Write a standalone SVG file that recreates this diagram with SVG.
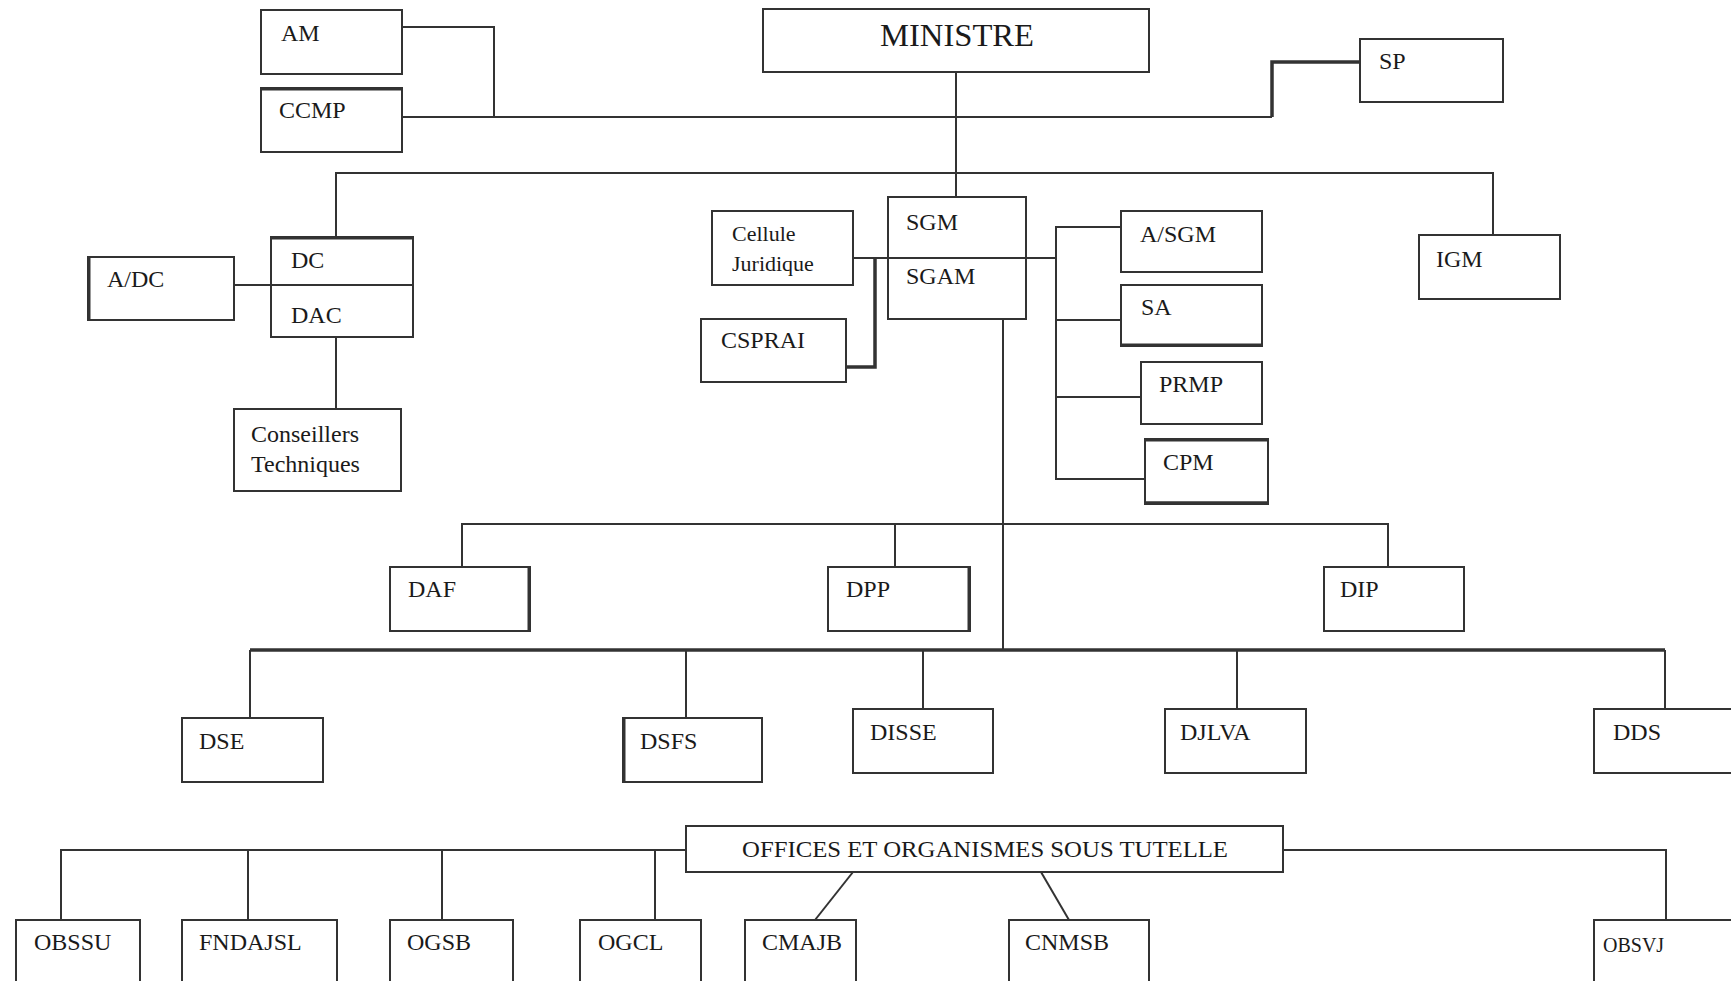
<svg xmlns="http://www.w3.org/2000/svg" width="1731" height="981" viewBox="0 0 1731 981">
<style>
.b{fill:#fff;stroke:#333;stroke-width:2}
.t{font-family:"Liberation Serif","Times New Roman",serif;font-size:24px;fill:#1a1a1a}
.s{font-size:22px}
.c{fill:none;stroke:#333;stroke-width:2}
.k{fill:none;stroke:#333;stroke-width:3.5}
</style>
<rect width="1731" height="981" fill="#fff"/>
<g id="connectors">
<polyline class="c" points="402,27 494,27 494,117"/>
<polyline class="c" points="402,117 1272,117"/>
<polyline class="k" points="1272,117 1272,62 1360,62"/>
<line class="c" x1="956" y1="72" x2="956" y2="197"/>
<polyline class="c" points="336,237 336,173 1493,173 1493,235"/>
<line class="c" x1="234" y1="285" x2="413" y2="285"/>
<line class="c" x1="336" y1="337" x2="336" y2="409"/>
<line class="c" x1="853" y1="258" x2="1056" y2="258"/>
<polyline class="k" points="846,367 875,367 875,258"/>
<polyline class="c" points="1121,227 1056,227 1056,479 1145,479"/>
<line class="c" x1="1056" y1="320" x2="1121" y2="320"/>
<line class="c" x1="1056" y1="397" x2="1141" y2="397"/>
<line class="c" x1="1003" y1="319" x2="1003" y2="650"/>
<polyline class="c" points="462,567 462,524 1388,524 1388,567"/>
<line class="c" x1="895" y1="524" x2="895" y2="567"/>
<line class="k" x1="250" y1="650" x2="1665" y2="650"/>
<line class="c" x1="250" y1="650" x2="250" y2="718"/>
<line class="c" x1="686" y1="650" x2="686" y2="718"/>
<line class="c" x1="923" y1="650" x2="923" y2="709"/>
<line class="c" x1="1237" y1="650" x2="1237" y2="709"/>
<line class="c" x1="1665" y1="650" x2="1665" y2="709"/>
<polyline class="c" points="61,920 61,850 686,850"/>
<line class="c" x1="248" y1="850" x2="248" y2="920"/>
<line class="c" x1="442" y1="850" x2="442" y2="920"/>
<line class="c" x1="655" y1="850" x2="655" y2="920"/>
<polyline class="c" points="1283,850 1666,850 1666,920"/>
<line class="c" x1="853" y1="872" x2="815" y2="920" stroke-width="1.5"/>
<line class="c" x1="1041" y1="872" x2="1069" y2="920" stroke-width="1.5"/>
</g>
<g id="ministre"><rect class="b" x="763" y="9" width="386" height="63"/><text class="t" x="880" y="46" style="font-size:32px" textLength="154" lengthAdjust="spacingAndGlyphs">MINISTRE</text></g>
<g id="am"><rect class="b" x="261" y="10" width="141" height="64"/><text class="t" x="281" y="41">AM</text></g>
<g id="ccmp"><rect class="b" x="261" y="88" width="141" height="64"/><line x1="261" y1="89" x2="402" y2="89" stroke="#333" stroke-width="3"/><text class="t" x="279" y="118">CCMP</text></g>
<g id="sp"><rect class="b" x="1360" y="39" width="143" height="63"/><text class="t" x="1379" y="69">SP</text></g>
<g id="dc"><rect class="b" x="271" y="237" width="142" height="100"/><line x1="271" y1="238" x2="413" y2="238" stroke="#333" stroke-width="3"/><line x1="271" y1="285" x2="413" y2="285" stroke="#333" stroke-width="2"/><text class="t" x="291" y="268">DC</text><text class="t" x="291" y="323">DAC</text></g>
<g id="adc"><rect class="b" x="88" y="257" width="146" height="63"/><line x1="89" y1="257" x2="89" y2="320" stroke="#333" stroke-width="3"/><text class="t" x="107" y="287">A/DC</text></g>
<g id="conseillers"><rect class="b" x="234" y="409" width="167" height="82"/><text class="t" x="251" y="442">Conseillers</text><text class="t" x="251" y="472">Techniques</text></g>
<g id="cellule"><rect class="b" x="712" y="211" width="141" height="74"/><text class="t s" x="732" y="241">Cellule</text><text class="t s" x="732" y="271">Juridique</text></g>
<g id="cspraj"><rect class="b" x="701" y="319" width="145" height="63"/><text class="t" x="721" y="348">CSPRAI</text></g>
<g id="sgm"><rect class="b" x="888" y="197" width="138" height="122" fill-opacity="0"/><text class="t" x="906" y="230">SGM</text><text class="t" x="906" y="284">SGAM</text></g>
<g id="asgm"><rect class="b" x="1121" y="211" width="141" height="61"/><text class="t" x="1140" y="242">A/SGM</text></g>
<g id="sa"><rect class="b" x="1121" y="285" width="141" height="61"/><line x1="1121" y1="345" x2="1262" y2="345" stroke="#333" stroke-width="3"/><text class="t" x="1141" y="315">SA</text></g>
<g id="prmp"><rect class="b" x="1141" y="362" width="121" height="62"/><text class="t" x="1159" y="392">PRMP</text></g>
<g id="cpm"><rect class="b" x="1145" y="439" width="123" height="65"/><line x1="1145" y1="440" x2="1268" y2="440" stroke="#333" stroke-width="3"/><line x1="1145" y1="503" x2="1268" y2="503" stroke="#333" stroke-width="3.5"/><text class="t" x="1163" y="470">CPM</text></g>
<g id="igm"><rect class="b" x="1419" y="235" width="141" height="64"/><text class="t" x="1436" y="267">IGM</text></g>
<g id="daf"><rect class="b" x="390" y="567" width="140" height="64"/><line x1="529" y1="567" x2="529" y2="631" stroke="#333" stroke-width="3"/><text class="t" x="408" y="597">DAF</text></g>
<g id="dpp"><rect class="b" x="828" y="567" width="142" height="64"/><line x1="969" y1="567" x2="969" y2="631" stroke="#333" stroke-width="3"/><text class="t" x="846" y="597">DPP</text></g>
<g id="dip"><rect class="b" x="1324" y="567" width="140" height="64"/><text class="t" x="1340" y="597">DIP</text></g>
<g id="dse"><rect class="b" x="182" y="718" width="141" height="64"/><text class="t" x="199" y="749">DSE</text></g>
<g id="dsfs"><rect class="b" x="623" y="718" width="139" height="64"/><line x1="624" y1="718" x2="624" y2="782" stroke="#333" stroke-width="3"/><text class="t" x="640" y="749">DSFS</text></g>
<g id="disse"><rect class="b" x="853" y="709" width="140" height="64"/><text class="t" x="870" y="740">DISSE</text></g>
<g id="djlva"><rect class="b" x="1165" y="709" width="141" height="64"/><text class="t" x="1180" y="740">DJLVA</text></g>
<g id="dds"><rect class="b" x="1594" y="709" width="145" height="64"/><text class="t" x="1613" y="740">DDS</text></g>
<g id="offices"><rect class="b" x="686" y="826" width="597" height="46"/><text class="t" x="985" y="857" text-anchor="middle" textLength="486" lengthAdjust="spacingAndGlyphs">OFFICES ET ORGANISMES SOUS TUTELLE</text></g>
<g id="obssu"><rect class="b" x="16" y="920" width="124" height="70"/><text class="t" x="34" y="950">OBSSU</text></g>
<g id="fndajsl"><rect class="b" x="182" y="920" width="155" height="70"/><text class="t" x="199" y="950">FNDAJSL</text></g>
<g id="ogsb"><rect class="b" x="390" y="920" width="123" height="70"/><text class="t" x="407" y="950">OGSB</text></g>
<g id="ogcl"><rect class="b" x="580" y="920" width="121" height="70"/><text class="t" x="598" y="950">OGCL</text></g>
<g id="cmajb"><rect class="b" x="745" y="920" width="111" height="70"/><text class="t" x="762" y="950">CMAJB</text></g>
<g id="cnmsb"><rect class="b" x="1009" y="920" width="140" height="70"/><text class="t" x="1025" y="950">CNMSB</text></g>
<g id="obsvj"><rect class="b" x="1594" y="920" width="145" height="70"/><text class="t" x="1603" y="952" style="font-size:20px">OBSVJ</text></g>
</svg>
